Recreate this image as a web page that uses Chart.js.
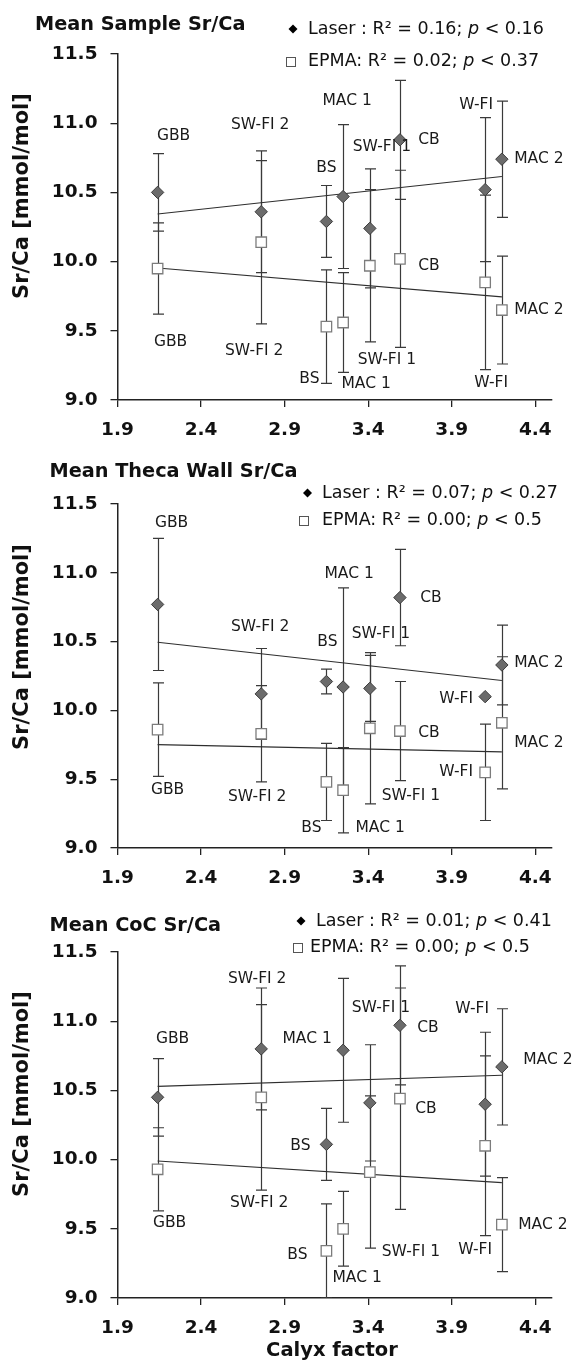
<!DOCTYPE html>
<html><head><meta charset="utf-8">
<script src="https://cdn.jsdelivr.net/npm/chart.js@4.4.0/dist/chart.umd.min.js"></script>
<style>
html,body{margin:0;padding:0;background:#fff;}
body{width:577px;height:1362px;position:relative;overflow:hidden;}
canvas{position:absolute;left:0;}
</style></head><body>
<canvas id="c1" width="577" height="450" style="top:0px"></canvas>
<canvas id="c2" width="577" height="450" style="top:450px"></canvas>
<canvas id="c3" width="577" height="462" style="top:900px"></canvas>
<script>
// ---------------- data ----------------
const sites = ['GBB', 'SW-FI 2', 'BS', 'MAC 1', 'SW-FI 1', 'CB', 'W-FI', 'MAC 2'];
const calyxFactor = [2.14, 2.76, 3.15, 3.25, 3.41, 3.59, 4.10, 4.20];
const xTickValues = [1.9, 2.4, 2.9, 3.4, 3.9, 4.4];
const yTickValues = [9.0, 9.5, 10.0, 10.5, 11.0, 11.5];

const sampleLaser    = [10.50, 10.36, 10.29, 10.47, 10.24, 10.88, 10.52, 10.74];
const sampleLaserErr = [0.28, 0.44, 0.26, 0.52, 0.43, 0.43, 0.52, 0.42];
const sampleEpma     = [9.95, 10.14, 9.53, 9.56, 9.97, 10.02, 9.85, 9.65];
const sampleEpmaErr  = [0.33, 0.59, 0.41, 0.36, 0.55, 0.64, 0.63, 0.39];

const thecaLaser    = [10.77, 10.12, 10.21, 10.17, 10.16, 10.82, 10.10, 10.33];
const thecaLaserErr = [0.48, 0.33, 0.09, 0.72, 0.24, 0.35, 0.00, 0.29];
const thecaEpma     = [9.86, 9.83, 9.48, 9.42, 9.87, 9.85, 9.55, 9.91];
const thecaEpmaErr  = [0.34, 0.35, 0.28, 0.31, 0.55, 0.36, 0.35, 0.48];

const cocLaser    = [10.45, 10.80, 10.11, 10.79, 10.41, 10.97, 10.40, 10.67];
const cocLaserErr = [0.28, 0.44, 0.26, 0.52, 0.42, 0.43, 0.52, 0.42];
const cocEpma     = [9.93, 10.45, 9.34, 9.50, 9.91, 10.44, 10.10, 9.53];
const cocEpmaErr  = [0.30, 0.67, 0.34, 0.27, 0.55, 0.80, 0.65, 0.34];

const sampleStats = ['0.16', '0.16', '0.02', '0.37'];
const thecaStats  = ['0.07', '0.27', '0.00', '0.5'];
const cocStats    = ['0.01', '0.41', '0.00', '0.5'];

// ---------------- layout (positions / styles) ----------------
const FONT = "'DejaVu Sans', 'Liberation Sans', sans-serif";
const panels = [
  { id: 'c1', title: 'Mean Sample Sr/Ca', laser: sampleLaser, laserErr: sampleLaserErr, epma: sampleEpma, epmaErr: sampleEpmaErr, stats: sampleStats,
    top: 54, bottom: 400, titlePos: [35, 25], legLaser: [293, 29, 308], legEpma: [290, 61, 308], yTitle: [23, 196], xTitle: null,
    laserOff: [[16,-56],[-1,-87],[0,-53],[4,-96],[12,-81],[29,0],[-9,-85],[37,0]],
    epmaOff:  [[13,73],[-7,109],[-17,52],[23,61],[17,94],[29,7],[6,101],[37,0]] },
  { id: 'c2', title: 'Mean Theca Wall Sr/Ca', laser: thecaLaser, laserErr: thecaLaserErr, epma: thecaEpma, epmaErr: thecaEpmaErr, stats: thecaStats,
    top: 54, bottom: 398, titlePos: [49.5, 22], legLaser: [307.5, 43, 322], legEpma: [303, 70, 322], yTitle: [23, 197], xTitle: null,
    laserOff: [[14,-81],[-1,-67],[1,-40],[6,-113],[11,-54],[31,0],[-29,2],[37,-2]],
    epmaOff:  [[10,60],[-4,63],[-15,46],[37,38],[41,68],[29,2],[-29,0],[37,20]] },
  { id: 'c3', title: 'Mean CoC Sr/Ca', laser: cocLaser, laserErr: cocLaserErr, epma: cocEpma, epmaErr: cocEpmaErr, stats: cocStats,
    top: 52, bottom: 398, titlePos: [49.5, 26], legLaser: [301, 21, 316], legEpma: [297, 47, 310], yTitle: [23, 194], xTitle: [332, 451],
    laserOff: [[15,-58],[-4,-70],[-26,2],[-36,-11],[11,-95],[28,3],[-13,-95],[46,-7]],
    epmaOff:  [[12,54],[-2,106],[-29,4],[14,49],[41,80],[26,10],[-10,104],[41,0]] }
];

function trend(xs, ys) {
  const n = xs.length;
  const mx = xs.reduce((a, b) => a + b, 0) / n;
  const my = ys.reduce((a, b) => a + b, 0) / n;
  let sxy = 0, sxx = 0;
  for (let i = 0; i < n; i++) { sxy += (xs[i] - mx) * (ys[i] - my); sxx += (xs[i] - mx) ** 2; }
  const b = sxy / sxx, a = my - b * mx;
  const x0 = Math.min(...xs), x1 = Math.max(...xs);
  return [{ x: x0, y: a + b * x0 }, { x: x1, y: a + b * x1 }];
}

function drawMixed(ctx, x, y, parts) {
  let cx = x;
  for (const [txt, italic] of parts) {
    ctx.font = (italic ? 'italic ' : '') + '17.5px ' + FONT;
    ctx.fillText(txt, cx, y);
    cx += ctx.measureText(txt).width;
  }
}

const overlay = {
  id: 'overlay',
  beforeDatasetsDraw(chart) {
    const P = chart.options.plugins.overlay.panel;
    const ctx = chart.ctx, xs = chart.scales.x, ys = chart.scales.y, a = chart.chartArea;
    ctx.save();
    ctx.beginPath(); ctx.rect(a.left, a.top - 2, a.right - a.left, a.bottom - a.top + 2); ctx.clip();
    ctx.strokeStyle = '#3a3a3a'; ctx.lineWidth = 1.2;
    [[P.laser, P.laserErr], [P.epma, P.epmaErr]].forEach(([vals, errs]) => {
      vals.forEach((v, i) => {
        if (!errs[i]) return;
        const px = Math.round(xs.getPixelForValue(calyxFactor[i])) + 0.5;
        const y1 = ys.getPixelForValue(v + errs[i]);
        const y2 = ys.getPixelForValue(v - errs[i]);
        ctx.beginPath();
        ctx.moveTo(px, y1); ctx.lineTo(px, y2);
        ctx.moveTo(px - 5.5, y1); ctx.lineTo(px + 5.5, y1);
        ctx.moveTo(px - 5.5, y2); ctx.lineTo(px + 5.5, y2);
        ctx.stroke();
      });
    });
    ctx.restore();
  },
  afterDraw(chart) {
    const P = chart.options.plugins.overlay.panel;
    const ctx = chart.ctx, xs = chart.scales.x, ys = chart.scales.y;
    ctx.save();
    ctx.fillStyle = '#111';
    ctx.textBaseline = 'middle';
    // title
    ctx.textAlign = 'left';
    ctx.font = 'bold 19.3px ' + FONT;
    ctx.fillText(P.title, P.titlePos[0], P.titlePos[1]);
    // legend
    const [lx, ly, lt] = P.legLaser;
    ctx.beginPath(); ctx.moveTo(lx - 4.5, ly); ctx.lineTo(lx, ly - 4.5); ctx.lineTo(lx + 4.5, ly); ctx.lineTo(lx, ly + 4.5); ctx.closePath();
    ctx.fillStyle = '#000'; ctx.fill();
    ctx.fillStyle = '#111';
    drawMixed(ctx, lt, ly, [['Laser : R² = ' + P.stats[0] + '; ', false], ['p', true], [' < ' + P.stats[1], false]]);
    const [ex, ey, et] = P.legEpma;
    ctx.strokeStyle = '#555'; ctx.lineWidth = 1;
    ctx.strokeRect(Math.round(ex - 4.5) + 0.5, Math.round(ey - 4.5) + 0.5, 9, 9);
    drawMixed(ctx, et, ey, [['EPMA: R² = ' + P.stats[2] + '; ', false], ['p', true], [' < ' + P.stats[3], false]]);
    // y title
    ctx.save();
    ctx.translate(P.yTitle[0], P.yTitle[1]); ctx.rotate(-Math.PI / 2);
    ctx.textAlign = 'center'; ctx.font = 'bold 21px ' + FONT;
    ctx.fillText('Sr/Ca [mmol/mol]', 0, 0);
    ctx.restore();
    if (P.xTitle) {
      ctx.textAlign = 'center'; ctx.font = 'bold 19.5px ' + FONT;
      ctx.fillText('Calyx factor', P.xTitle[0], P.xTitle[1]);
    }
    // point labels
    ctx.font = '15.5px ' + FONT; ctx.textAlign = 'center'; ctx.fillStyle = '#1a1a1a';
    [[P.laser, P.laserOff], [P.epma, P.epmaOff]].forEach(([vals, offs]) => {
      vals.forEach((v, i) => {
        const px = xs.getPixelForValue(calyxFactor[i]), py = ys.getPixelForValue(v);
        ctx.fillText(sites[i], px + offs[i][0], py + offs[i][1]);
      });
    });
    ctx.restore();
  }
};

panels.forEach(P => {
  const canvas = document.getElementById(P.id);
  const H = canvas.height;
  const XAXIS_H = 50;
  new Chart(canvas, {
    type: 'scatter',
    data: {
      datasets: [
        { label: 'Laser', data: calyxFactor.map((x, i) => ({ x, y: P.laser[i] })), pointStyle: 'rectRot', pointRadius: 6.2,
          backgroundColor: '#6b6b6b', borderColor: '#3c3c3c', borderWidth: 1, order: 0 },
        { label: 'EPMA', data: calyxFactor.map((x, i) => ({ x, y: P.epma[i] })), pointStyle: 'rect', pointRadius: 7.4,
          backgroundColor: '#ffffff', borderColor: '#7c7c7c', borderWidth: 1.3, order: 1 },
        { label: 'Laser trend', data: trend(calyxFactor, P.laser), showLine: true, pointRadius: 0, borderColor: '#2e2e2e', borderWidth: 1.1, order: 2 },
        { label: 'EPMA trend', data: trend(calyxFactor, P.epma), showLine: true, pointRadius: 0, borderColor: '#2e2e2e', borderWidth: 1.1, order: 3 }
      ]
    },
    options: {
      responsive: false, animation: false, devicePixelRatio: 1,
      layout: { padding: { left: 0, right: 25, top: P.top, bottom: H - P.bottom - XAXIS_H } },
      plugins: { legend: { display: false }, tooltip: { enabled: false }, overlay: { panel: P } },
      scales: {
        x: {
          type: 'linear', min: 1.9, max: 4.5,
          afterBuildTicks: s => { s.ticks = xTickValues.map(v => ({ value: v })); },
          afterFit: s => { s.height = XAXIS_H; },
          grid: { display: true, drawOnChartArea: false, drawTicks: true, tickLength: 7, color: '#222', lineWidth: 1.3 },
          border: { display: true, color: '#222', width: 1.5 },
          ticks: { font: { family: FONT, weight: 'bold', size: 18.5 }, color: '#111', padding: 12, maxRotation: 0, autoSkip: false,
                   callback: v => Number(v).toFixed(1) }
        },
        y: {
          type: 'linear', min: 9.0, max: 11.5,
          afterBuildTicks: s => { s.ticks = yTickValues.map(v => ({ value: v })); },
          afterFit: s => { s.width = 117.5; },
          grid: { display: true, drawOnChartArea: false, drawTicks: true, tickLength: 7, color: '#222', lineWidth: 1.3 },
          border: { display: true, color: '#222', width: 1.5 },
          ticks: { font: { family: FONT, weight: 'bold', size: 18.5 }, color: '#111', padding: 13, autoSkip: false,
                   callback: v => Number(v).toFixed(1) }
        }
      }
    },
    plugins: [overlay]
  });
});
</script>
</body></html>
